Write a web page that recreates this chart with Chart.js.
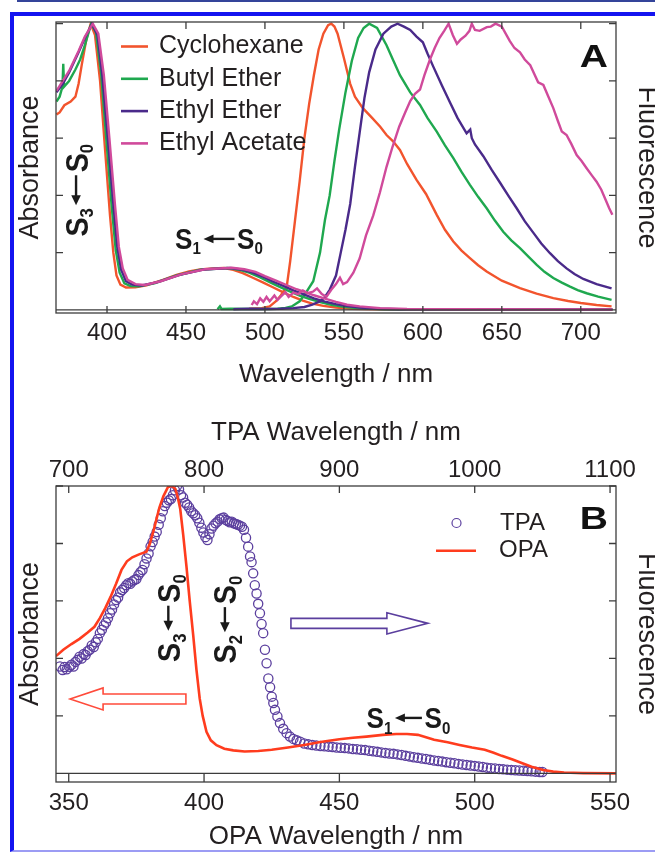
<!DOCTYPE html>
<html>
<head>
<meta charset="utf-8">
<script src="https://cdn.jsdelivr.net/npm/chart.js@4.4.0/dist/chart.umd.min.js"></script>
<style>
  html, body { margin: 0; padding: 0; background: #fff; width: 655px; height: 852px; overflow: hidden; }
  #topLine { position: absolute; left: 17px; top: 0; width: 640px; height: 2px; background: #34449a; }
  #frame { position: absolute; left: 10px; top: 12px; width: 700px; height: 834px;
           border-left: 4px solid #1414f0; border-top: 4px solid #1414f0; border-bottom: 2px solid #9c9cf4; }
  canvas { position: absolute; left: 0; }
  #chartA { top: 0; }
  #chartB { top: 400px; }
</style>
</head>
<body>
<div id="topLine"></div>
<div id="frame"></div>
<canvas id="chartA" width="670" height="400"></canvas>
<canvas id="chartB" width="670" height="452"></canvas>
<script>
// ---- panel A: normalised absorbance / fluorescence, [wavelength nm, value] ----
const solventNames = ["Cyclohexane", "Butyl Ether", "Ethyl Ether", "Ethyl Acetate"];

const cyclohexaneAbs = [[368,0.683],[370,0.69],[373,0.715],[377,0.728],[380,0.745],[382,0.79],[384,0.856],[387,0.948],[389.7,1.0],[392.4,0.96],[395.6,0.8],[398.7,0.565],[401.9,0.33],[404,0.2],[406,0.12],[408.5,0.088],[412,0.078],[418,0.079],[425,0.086],[435,0.104],[444,0.122],[452,0.134],[459,0.141],[467,0.145],[474,0.146],[480,0.14],[486,0.128],[492,0.113],[499,0.095],[505,0.079],[511,0.063],[518,0.045],[524,0.032],[530,0.022],[537,0.014],[545,0.008],[555,0.004],[570,0.002],[600,0.001],[720,0.001]];
const butylEtherAbs = [[368,0.728],[370,0.745],[371.8,0.78],[372.3,0.86],[372.8,0.78],[376,0.8],[380,0.84],[383,0.875],[386,0.925],[390,1.0],[393,0.97],[396.2,0.83],[399.5,0.6],[403,0.36],[405.5,0.21],[408,0.13],[411,0.093],[415,0.083],[420,0.082],[430,0.093],[444,0.12],[459,0.14],[476,0.146],[484,0.14],[490,0.13],[497,0.113],[503,0.097],[509,0.081],[515,0.066],[522,0.05],[528,0.038],[535,0.027],[542,0.018],[550,0.011],[558,0.006],[575,0.002],[600,0.001],[720,0.001]];
const ethylEtherAbs = [[368,0.76],[372,0.79],[376,0.83],[382,0.9],[386,0.95],[390.5,1.0],[394,0.96],[397,0.82],[400.5,0.6],[404,0.37],[406.5,0.22],[409,0.14],[412,0.1],[416,0.088],[422,0.085],[432,0.097],[446,0.122],[461,0.141],[478,0.146],[486,0.14],[492,0.131],[499,0.115],[505,0.099],[512,0.083],[518,0.068],[525,0.053],[531,0.04],[538,0.029],[545,0.02],[552,0.013],[560,0.008],[570,0.004],[585,0.002],[720,0.001]];
const ethylAcetateAbs = [[368,0.765],[372,0.8],[376,0.835],[382,0.905],[386,0.955],[391,1.0],[394.5,0.965],[398,0.82],[401.5,0.6],[405,0.37],[407.5,0.22],[410,0.145],[413,0.105],[418,0.09],[424,0.087],[434,0.1],[447,0.124],[462,0.142],[479,0.147],[487,0.142],[494,0.133],[500,0.118],[507,0.102],[514,0.086],[520,0.072],[526,0.061],[531,0.051],[538,0.039],[545,0.028],[552,0.018],[560,0.012],[573,0.006],[590,0.003],[620,0.002],[720,0.001]];

const cyclohexaneFl = [[490,0.004],[498,0.006],[503,0.012],[507,0.03],[510,0.05],[513.8,0.081],[516,0.17],[519,0.31],[522,0.45],[525,0.6],[528,0.72],[531,0.82],[534,0.91],[537,0.965],[540,0.995],[542,1.0],[544,0.99],[546,0.965],[550,0.88],[554,0.79],[557,0.745],[562,0.705],[568,0.67],[573,0.64],[577,0.611],[581,0.59],[585.5,0.559],[590,0.51],[596,0.454],[602,0.405],[608.8,0.332],[614,0.28],[619.3,0.239],[624.5,0.207],[629.8,0.181],[635,0.156],[640.4,0.134],[650,0.102],[661.5,0.076],[672,0.057],[682.6,0.041],[692,0.031],[700,0.024],[710,0.017],[719.5,0.012]];
const butylEtherFl = [[470,0.002],[471.5,0.012],[472.5,0.003],[478,0.004],[490,0.003],[500,0.003],[508,0.004],[513,0.007],[517,0.012],[522,0.03],[526,0.06],[530.6,0.1],[534.9,0.2],[538,0.314],[541,0.4],[544,0.52],[547,0.63],[551,0.76],[555,0.87],[559,0.95],[562.5,0.985],[566,1.0],[571,0.985],[577,0.925],[581,0.875],[585.5,0.82],[592,0.76],[598.2,0.716],[603,0.67],[608.8,0.623],[614,0.575],[619.3,0.53],[624.5,0.482],[629.8,0.437],[635,0.395],[640.4,0.355],[645.6,0.312],[650.9,0.273],[656,0.243],[661.5,0.216],[667,0.185],[672.1,0.157],[677,0.133],[682.6,0.111],[688,0.095],[693.2,0.081],[698,0.069],[703.7,0.058],[711,0.046],[719.5,0.035]];
const ethylEtherFl = [[480,0.002],[490,0.004],[500,0.003],[510,0.004],[518,0.006],[525,0.01],[530,0.018],[535,0.03],[538,0.045],[541,0.07],[545,0.12],[548,0.2],[551,0.28],[554,0.37],[557,0.5],[560,0.62],[563,0.74],[566,0.83],[570,0.91],[575,0.965],[580,0.99],[584,1.0],[588,0.99],[592,0.978],[596,0.955],[600,0.935],[603,0.895],[606.6,0.85],[612,0.785],[617.2,0.725],[622,0.67],[627.7,0.617],[630,0.63],[631,0.6],[633,0.578],[638.3,0.537],[643.5,0.49],[648.8,0.445],[654,0.4],[659.4,0.355],[664.5,0.31],[669.9,0.27],[675,0.232],[680.5,0.198],[685.5,0.17],[691,0.145],[696,0.125],[701.6,0.108],[710,0.09],[719.5,0.075]];
const ethylAcetateFl = [[491.6,0.017],[493,0.03],[495,0.02],[497,0.04],[499,0.028],[501,0.045],[503,0.03],[506,0.05],[508,0.035],[510,0.046],[513,0.062],[515,0.045],[518,0.06],[521,0.055],[524,0.068],[527,0.058],[530.6,0.064],[533,0.075],[536,0.055],[539,0.046],[542,0.07],[545,0.09],[547.5,0.112],[549.5,0.09],[552,0.097],[556,0.13],[560,0.18],[564,0.26],[568.6,0.33],[572.8,0.41],[577,0.5],[580.8,0.57],[585,0.64],[588.8,0.69],[592,0.73],[595,0.755],[598.2,0.77],[601,0.82],[604.5,0.875],[607.5,0.915],[610.5,0.95],[613.5,0.975],[616.3,1.0],[619,0.96],[621.6,0.93],[624,0.945],[627,0.958],[629.5,0.975],[631,1.0],[633,0.978],[636,0.975],[640.5,0.988],[643,0.99],[646,1.0],[648,0.995],[650,0.99],[655,0.94],[658,0.915],[661.5,0.9],[664.5,0.875],[668,0.855],[673,0.795],[676.3,0.786],[679.5,0.745],[682.6,0.705],[685.5,0.66],[688,0.623],[691,0.611],[694,0.58],[697.4,0.541],[700.5,0.52],[703.7,0.495],[707,0.47],[710,0.448],[713,0.42],[715.3,0.39],[718,0.355],[720,0.332]];

// ---- panel B: OPA [OPA nm, value], TPA [TPA nm, value] ----
const opaData = [[345.3,0.408],[348,0.43],[351,0.45],[354,0.468],[357,0.49],[359.5,0.51],[361.5,0.54],[363.5,0.575],[365.5,0.615],[367.5,0.66],[369.5,0.708],[371.5,0.738],[373.5,0.752],[376,0.762],[378.7,0.771],[380,0.8],[381.5,0.85],[383.5,0.925],[385,0.965],[386.7,0.997],[388.2,1.0],[389.4,0.99],[390.3,0.96],[391.2,0.92],[392.3,0.83],[393.5,0.72],[394.7,0.6],[396,0.48],[397.2,0.36],[398.4,0.26],[399.5,0.2],[400.9,0.145],[402.5,0.115],[404.6,0.098],[407.5,0.086],[410.8,0.08],[415,0.076],[420,0.078],[425,0.082],[431,0.09],[437,0.099],[443,0.109],[450,0.119],[455,0.124],[460,0.128],[466,0.134],[471,0.137],[475,0.137],[479,0.134],[482,0.126],[485,0.117],[490,0.108],[494.4,0.099],[499,0.09],[503.7,0.082],[507,0.072],[510,0.061],[514,0.048],[517.6,0.035],[521,0.023],[525.3,0.012],[529,0.006],[533,0.003],[540,0.001],[552.2,0]];
const tpaData = [[693.5,0.372],[695.5,0.36],[697,0.37],[698.5,0.362],[700.5,0.371],[702,0.378],[703.5,0.372],[705,0.388],[706.5,0.395],[708,0.406],[709.5,0.4],[711,0.415],[712.5,0.412],[714,0.425],[715.5,0.43],[717,0.445],[718.5,0.44],[720,0.456],[721.5,0.468],[723,0.488],[724.5,0.5],[726,0.515],[727.5,0.525],[729,0.54],[730.5,0.557],[732,0.57],[733.5,0.588],[735,0.603],[736.5,0.612],[738,0.63],[739.5,0.638],[741,0.645],[742.5,0.655],[744,0.662],[745.5,0.66],[747,0.668],[748.5,0.673],[750,0.676],[751.5,0.69],[753,0.7],[754.5,0.708],[756,0.728],[757.5,0.748],[759,0.765],[760.5,0.79],[762,0.805],[763.5,0.824],[765,0.84],[766.5,0.865],[768,0.888],[769.5,0.912],[771,0.93],[772.5,0.942],[774,0.95],[775.5,0.955],[777,0.968],[778.5,0.985],[780,1.0],[781.5,0.988],[783,0.968],[784.5,0.96],[786,0.942],[787.5,0.935],[789,0.925],[790.5,0.912],[792,0.905],[793.5,0.898],[795,0.888],[796.5,0.872],[798,0.855],[799.5,0.838],[801,0.822],[802.5,0.812],[804,0.832],[805.5,0.852],[807,0.862],[808.5,0.87],[810,0.876],[811.5,0.884],[813,0.888],[814.5,0.89],[816,0.882],[817.5,0.878],[819,0.874],[820.5,0.876],[822,0.87],[823.5,0.868],[825,0.865],[826.5,0.862],[828,0.858],[829.5,0.848],[831,0.82],[832.6,0.789],[834,0.755],[835.1,0.735],[836.3,0.696],[837.5,0.655],[838.8,0.626],[840,0.59],[841.3,0.557],[842.5,0.52],[843.7,0.488],[845,0.43],[846.2,0.383],[847.5,0.33],[848.8,0.3],[850,0.267],[851.2,0.245],[852.4,0.221],[854.2,0.198],[856.1,0.175],[858.5,0.155],[861,0.14],[863.5,0.128],[866,0.12],[868.4,0.115],[871,0.11],[874,0.104],[877,0.101],[880,0.099],[883,0.097],[886,0.095],[889,0.094],[892,0.093],[895,0.092],[898,0.09],[901,0.089],[904,0.088],[907,0.087],[910,0.085],[913,0.084],[916,0.082],[919,0.081],[922,0.079],[925,0.077],[928,0.075],[931,0.073],[934,0.071],[937,0.069],[940,0.068],[943,0.066],[946,0.064],[949,0.061],[952,0.059],[955,0.056],[958,0.054],[961,0.052],[964,0.05],[967,0.047],[970,0.045],[973,0.043],[976,0.041],[979,0.039],[982,0.037],[985,0.035],[988,0.033],[991,0.031],[994,0.029],[997,0.027],[1000,0.026],[1003,0.024],[1006,0.022],[1009,0.02],[1012,0.018],[1015,0.017],[1018,0.015],[1021,0.014],[1024,0.013],[1027,0.012],[1030,0.011],[1033,0.01],[1036,0.009],[1039,0.008],[1042,0.007],[1045,0.006],[1048,0.005],[1050,0.005]];

// ---- styles ----
const FONT = "'Liberation Sans', Arial, Helvetica, sans-serif";
const INK = "#231f20";
const solventColors = ["#f2542d", "#1fa84f", "#4a2a8a", "#d04a9b"];
const opaColor = "#ff3c1e";
const tpaColor = "#5b3f9e";

Chart.defaults.font.family = FONT;
Chart.defaults.color = INK;

function toXY(pts) { return pts.map(function(p) { return { x: p[0], y: p[1] }; }); }
function plainTick(v) { return String(v); }

// frame box, zero line and inward tick marks, all from the chart's own scales
const frameTicks = {
    id: "frameTicks",
    afterDatasetsDraw(chart, args, opts) {
        const ctx = chart.ctx, a = chart.chartArea, s = chart.scales;
        const xB = s.x, xT = s[opts.topAxis], yS = s.y;
        ctx.save();
        ctx.strokeStyle = "#3c3c3c";
        ctx.lineWidth = 1.3;
        ctx.strokeRect(a.left, a.top, a.right - a.left, a.bottom - a.top);
        const y0 = yS.getPixelForValue(0);
        ctx.beginPath();
        ctx.moveTo(a.left, y0); ctx.lineTo(a.right, y0);
        xB.ticks.forEach(function(t) {
            const px = xB.getPixelForValue(t.value);
            ctx.moveTo(px, a.bottom); ctx.lineTo(px, a.bottom - opts.bottomTick);
        });
        xT.ticks.forEach(function(t) {
            const px = xT.getPixelForValue(t.value);
            ctx.moveTo(px, a.top); ctx.lineTo(px, a.top + 7);
        });
        yS.ticks.forEach(function(t) {
            const py = yS.getPixelForValue(t.value);
            ctx.moveTo(a.left, py); ctx.lineTo(a.left + 7, py);
            ctx.moveTo(a.right, py); ctx.lineTo(a.right - 7, py);
        });
        ctx.stroke();
        ctx.restore();
    }
};

// "S<lo> <- S<hi>" label, centred on (px, py), optionally rotated
function drawTransition(ctx, px, py, angle, lo, hi, size, arrowLen) {
    const sub = size * 0.58, sx = 0.9, gap = size * 0.1;
    ctx.save();
    ctx.translate(px, py);
    ctx.rotate(angle);
    ctx.scale(sx, 1);
    ctx.fillStyle = "#1a1a1a";
    ctx.strokeStyle = "#1a1a1a";
    ctx.textBaseline = "alphabetic";
    ctx.font = "bold " + size + "px " + FONT;
    const wS = ctx.measureText("S").width;
    ctx.font = "bold " + sub + "px " + FONT;
    const wLo = ctx.measureText(lo).width, wHi = ctx.measureText(hi).width;
    const arrowU = arrowLen / sx;
    const total = wS + wLo + gap + arrowU + gap + wS + wHi;
    const base = size * 0.358;
    let x = -total / 2;
    ctx.font = "bold " + size + "px " + FONT; ctx.fillText("S", x, base); x += wS;
    ctx.font = "bold " + sub + "px " + FONT; ctx.fillText(lo, x, base + size * 0.18); x += wLo + gap;
    const head = 10 / sx, hw = size * 0.15;
    ctx.lineWidth = 2.4;
    ctx.beginPath(); ctx.moveTo(x + head - 1, 0); ctx.lineTo(x + arrowU, 0); ctx.stroke();
    ctx.beginPath(); ctx.moveTo(x, 0); ctx.lineTo(x + head, -hw); ctx.lineTo(x + head, hw); ctx.closePath(); ctx.fill();
    x += arrowU + gap;
    ctx.font = "bold " + size + "px " + FONT; ctx.fillText("S", x, base); x += wS;
    ctx.font = "bold " + sub + "px " + FONT; ctx.fillText(hi, x, base + size * 0.18);
    ctx.restore();
}

function hollowArrow(ctx, tailX, tipX, y, shaftH, headH, headL, color) {
    const dir = Math.sign(tipX - tailX), baseX = tipX - dir * headL;
    ctx.save();
    ctx.beginPath();
    ctx.moveTo(tailX, y - shaftH); ctx.lineTo(baseX, y - shaftH); ctx.lineTo(baseX, y - headH);
    ctx.lineTo(tipX, y); ctx.lineTo(baseX, y + headH); ctx.lineTo(baseX, y + shaftH);
    ctx.lineTo(tailX, y + shaftH); ctx.closePath();
    ctx.strokeStyle = color; ctx.lineWidth = 1.6; ctx.stroke();
    ctx.restore();
}

function panelLetter(ctx, a, letter, dy) {
    ctx.save();
    ctx.translate(a.right - 8, a.top + dy);
    ctx.scale(1.22, 1);
    ctx.font = "bold 32px " + FONT;
    ctx.fillStyle = "#111";
    ctx.textAlign = "right";
    ctx.textBaseline = "alphabetic";
    ctx.fillText(letter, 0, 0);
    ctx.restore();
}

const annotA = {
    id: "annotA",
    afterDraw(chart) {
        const ctx = chart.ctx, a = chart.chartArea, x = chart.scales.x, y = chart.scales.y;
        panelLetter(ctx, a, "A", 45);
        // legend built from the absorbance datasets
        ctx.save();
        ctx.font = "25px " + FONT;
        ctx.fillStyle = INK;
        ctx.textBaseline = "middle";
        chart.data.datasets.filter(function(d) { return d.inLegend; }).forEach(function(d, i) {
            const ry = a.top + 24.5 + i * 32.3;
            ctx.strokeStyle = d.borderColor; ctx.lineWidth = 2.6;
            ctx.beginPath(); ctx.moveTo(a.left + 65, ry); ctx.lineTo(a.left + 92, ry); ctx.stroke();
            ctx.fillText(d.label, a.left + 103, ry);
        });
        ctx.restore();
        drawTransition(ctx, x.getPixelForValue(380.4), y.getPixelForValue(0.418), -Math.PI / 2, "3", "0", 32, 30);
        drawTransition(ctx, x.getPixelForValue(470.9), y.getPixelForValue(0.248), 0, "1", "0", 29, 31);
    }
};

const annotB = {
    id: "annotB",
    afterDraw(chart) {
        const ctx = chart.ctx, a = chart.chartArea, x = chart.scales.x, y = chart.scales.y;
        panelLetter(ctx, a, "B", 43);
        ctx.save();
        ctx.font = "24px " + FONT;
        ctx.fillStyle = INK;
        ctx.textBaseline = "middle";
        const tpa = chart.data.datasets[0], opa = chart.data.datasets[1];
        ctx.strokeStyle = tpa.borderColor; ctx.lineWidth = 1.2;
        ctx.beginPath(); ctx.arc(a.left + 400.5, a.top + 37, 4.5, 0, Math.PI * 2); ctx.stroke();
        ctx.fillText(tpa.label, a.left + 444, a.top + 37);
        ctx.strokeStyle = opa.borderColor; ctx.lineWidth = 2.6;
        ctx.beginPath(); ctx.moveTo(a.left + 380, a.top + 64.7); ctx.lineTo(a.left + 420, a.top + 64.7); ctx.stroke();
        ctx.fillText(opa.label, a.left + 443, a.top + 64.7);
        ctx.restore();
        drawTransition(ctx, x.getPixelForValue(386.8), y.getPixelForValue(0.54), -Math.PI / 2, "3", "0", 32, 25);
        drawTransition(ctx, x.getPixelForValue(407.7), y.getPixelForValue(0.535), -Math.PI / 2, "2", "0", 32, 25);
        drawTransition(ctx, x.getPixelForValue(475.5), y.getPixelForValue(0.193), 0, "1", "0", 29, 27);
        hollowArrow(ctx, x.getPixelForValue(393.3), x.getPixelForValue(350.5), y.getPixelForValue(0.259), 5, 11, 33, "#ff4b3b");
        hollowArrow(ctx, x.getPixelForValue(432.1), x.getPixelForValue(482.7), y.getPixelForValue(0.522), 5, 10.7, 41, tpaColor);
    }
};

function hiddenY(width, title, pad, position, min, max) {
    return {
        position: position, min: min, max: max,
        afterFit: function(s) { s.width = width; },
        grid: { display: false, drawTicks: false }, border: { display: false },
        ticks: { display: false, stepSize: 0.2, includeBounds: false },
        title: { display: true, text: title, color: INK, font: { size: 27 }, padding: { top: pad, bottom: 0 } }
    };
}

function wavelengthAxis(position, min, max, step, height, pad, title, titlePad) {
    return {
        type: "linear", position: position, min: min, max: max,
        afterFit: function(s) { s.height = height; },
        grid: { display: false, drawTicks: false }, border: { display: false },
        ticks: { stepSize: step, includeBounds: false, padding: pad, maxRotation: 0, color: INK,
                 font: { size: 24 }, callback: plainTick },
        title: { display: true, text: title, color: INK, font: { size: 26 }, padding: titlePad }
    };
}

window.addEventListener("DOMContentLoaded", function() {
    const absSeries = [cyclohexaneAbs, butylEtherAbs, ethylEtherAbs, ethylAcetateAbs];
    const flSeries = [cyclohexaneFl, butylEtherFl, ethylEtherFl, ethylAcetateFl];
    const line = { pointRadius: 0, borderWidth: 2.4, fill: false, tension: 0 };

    const dsA = [];
    solventNames.forEach(function(n, i) {
        dsA.push(Object.assign({ label: n, data: toXY(absSeries[i]), borderColor: solventColors[i],
            yAxisID: "y", inLegend: true, order: 3 - i }, line));
    });
    solventNames.forEach(function(n, i) {
        dsA.push(Object.assign({ label: n + " fluorescence", data: toXY(flSeries[i]), borderColor: solventColors[i],
            yAxisID: "y2", order: 3 - i }, line));
    });

    new Chart(document.getElementById("chartA"), {
        type: "line",
        data: { datasets: dsA },
        options: {
            responsive: false, animation: false, events: [],
            layout: { padding: { top: 22, left: 0, right: 0, bottom: 0 } },
            plugins: { legend: { display: false }, tooltip: { enabled: false }, frameTicks: { bottomTick: 7, topAxis: "x" } },
            scales: {
                x: wavelengthAxis("bottom", 367.7, 722.3, 50, 87, 5.6, "Wavelength / nm", { top: 0, bottom: 9.4 }),
                y: hiddenY(56, "Absorbance", 14, "left", -0.011, 1.006),
                y2: hiddenY(54, "Fluorescence", 7, "right", -0.011, 1.006)
            }
        },
        plugins: [frameTicks, annotA]
    });

    new Chart(document.getElementById("chartB"), {
        type: "line",
        data: {
            datasets: [
                { label: "TPA", data: toXY(tpaData), xAxisID: "xt", yAxisID: "y2", showLine: false,
                  pointRadius: 4.6, pointBorderWidth: 1.3, borderColor: tpaColor, pointBorderColor: tpaColor,
                  pointBackgroundColor: "rgba(0,0,0,0)", backgroundColor: "rgba(0,0,0,0)", order: 1 },
                Object.assign({ label: "OPA", data: toXY(opaData), xAxisID: "x", yAxisID: "y",
                  borderColor: opaColor, order: 0 }, line, { borderWidth: 2.6 })
            ]
        },
        options: {
            responsive: false, animation: false, events: [],
            layout: { padding: 0 },
            plugins: { legend: { display: false }, tooltip: { enabled: false }, frameTicks: { bottomTick: 9, topAxis: "xt" } },
            scales: {
                x: wavelengthAxis("bottom", 345.3, 552.2, 50, 70, 6.6, "OPA Wavelength / nm", { top: 0, bottom: 0 }),
                xt: wavelengthAxis("top", 690.6, 1104.4, 100, 86, 1.6, "TPA Wavelength / nm", { top: 17.4, bottom: 0 }),
                y: hiddenY(56, "Absorbance", 14, "left", -0.03, 1.0),
                y2: hiddenY(54, "Fluorescence", 7, "right", -0.03, 1.0)
            }
        },
        plugins: [frameTicks, annotB]
    });
});
</script>
</body>
</html>
